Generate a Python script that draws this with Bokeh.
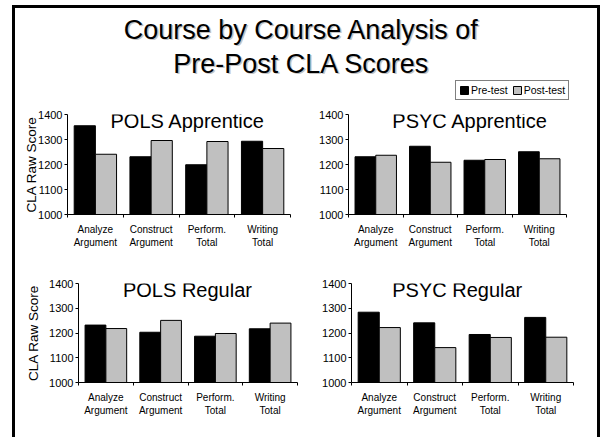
from bokeh.plotting import figure
from bokeh.models import (FactorRange, Range1d, LinearAxis, FixedTicker,
                          Label, Legend, LegendItem, ColumnDataSource)
from bokeh.transform import dodge
from bokeh.layouts import column, row
from bokeh.embed import file_html
from bokeh.resources import INLINE

FONT = "Liberation Sans"

# ---- data ----
categories = ["Analyze\nArgument", "Construct\nArgument", "Perform.\nTotal", "Writing\nTotal"]
series_names = ["Pre-test", "Post-test"]
y_ticks = [1000, 1100, 1200, 1300, 1400]
main_title = ["Course by Course Analysis of", "Pre-Post CLA Scores"]
y_label = "CLA Raw Score"

pols_app_title = "POLS Apprentice"
pols_app_pre = [1355, 1231, 1199, 1293]
pols_app_post = [1241, 1296, 1292, 1264]

psyc_app_title = "PSYC Apprentice"
psyc_app_pre = [1231, 1273, 1217, 1251]
psyc_app_post = [1237, 1209, 1220, 1223]

pols_reg_title = "POLS Regular"
pols_reg_pre = [1232, 1203, 1187, 1217]
pols_reg_post = [1218, 1251, 1198, 1240]

psyc_reg_title = "PSYC Regular"
psyc_reg_pre = [1284, 1241, 1194, 1263]
psyc_reg_post = [1222, 1141, 1182, 1183]

PRE_COLOR = "black"
POST_COLOR = "#C0C0C0"


def make_panel(title, pre, post, w, h, bl, br, bt, bb, ylabel, ylabel_standoff, title_x):
    src = ColumnDataSource(dict(cat=categories, pre=pre, post=post))
    p = figure(x_range=FactorRange(factors=categories, range_padding=0),
               y_range=Range1d(y_ticks[0], y_ticks[-1]),
               width=w, height=h, min_border_left=bl, min_border_right=br,
               min_border_top=bt, min_border_bottom=bb,
               x_axis_type=None, y_axis_type=None,
               output_backend="svg", toolbar_location=None)
    p.outline_line_color = None
    p.background_fill_color = "white"
    p.border_fill_color = "white"

    p.vbar(x=dodge("cat", -0.19, range=p.x_range), top="pre", bottom=y_ticks[0], width=0.38,
           source=src, fill_color=PRE_COLOR, line_color="black", line_width=1)
    p.vbar(x=dodge("cat", 0.19, range=p.x_range), top="post", bottom=y_ticks[0], width=0.38,
           source=src, fill_color=POST_COLOR, line_color="black", line_width=1)

    yax = LinearAxis(ticker=FixedTicker(ticks=y_ticks))
    if ylabel:
        yax.axis_label = ylabel
    yax.axis_label_text_font = FONT
    yax.axis_label_text_font_size = "13.5px"
    yax.axis_label_text_font_style = "normal"
    yax.axis_label_text_color = "black"
    yax.axis_label_standoff = ylabel_standoff
    yax.major_label_text_font = FONT
    yax.major_label_text_font_size = "11px"
    yax.major_label_text_color = "black"
    yax.major_label_standoff = 2
    yax.major_tick_in = 0
    yax.major_tick_out = 3
    yax.minor_tick_line_color = None
    yax.axis_line_color = "black"
    p.add_layout(yax, "left")

    # category labels at centres, small tick marks between categories
    n = len(categories)
    centres = [i + 0.5 for i in range(n)]
    bounds = [float(i) for i in range(n + 1)]
    xax = LinearAxis(ticker=FixedTicker(ticks=centres, minor_ticks=bounds))
    xax.major_label_overrides = {c: lab for c, lab in zip(centres, categories)}
    xax.major_tick_line_color = None
    xax.major_tick_in = 0
    xax.major_tick_out = 0
    xax.minor_tick_line_color = "black"
    xax.minor_tick_in = 0
    xax.minor_tick_out = 3
    xax.axis_line_color = "black"
    xax.major_label_text_font = FONT
    xax.major_label_text_font_size = "10px"
    xax.major_label_text_color = "black"
    xax.major_label_standoff = 6
    p.add_layout(xax, "below")

    frame_h = h - bt - bb
    span = y_ticks[-1] - y_ticks[0]
    p.add_layout(Label(x=title_x, y=y_ticks[-1] - 6 * span / frame_h, text=title,
                       text_align="center", text_baseline="alphabetic",
                       text_font=FONT, text_font_size="20px", text_color="black"))
    return p


W1, W2 = 301, 281
p1 = make_panel(pols_app_title, pols_app_pre, pols_app_post, W1, 162, 52, 26, 14, 48, y_label, -4, 2.157)
p2 = make_panel(psyc_app_title, psyc_app_pre, psyc_app_post, W2, 162, 26, 31, 14, 48, None, 0, 2.232)
p3 = make_panel(pols_reg_title, pols_reg_pre, pols_reg_post, W1, 175, 63, 19, 21, 55, y_label, 5, 1.99)
p4 = make_panel(psyc_reg_title, psyc_reg_pre, psyc_reg_post, W2, 175, 35, 24, 21, 55, None, 0, 1.905)

# ---- title strip with legend ----
TW, TH = W1 + W2, 92
pt = figure(width=TW, height=TH, x_range=Range1d(0, TW), y_range=Range1d(0, TH),
            min_border=0, x_axis_type=None, y_axis_type=None,
            output_backend="svg", toolbar_location=None)
pt.outline_line_color = None
for dx, dy, col in [(1.5, -1.5, "#C4C4C4"), (0, 0, "black")]:
    pt.add_layout(Label(x=286 + dx, y=71 + dy, text=main_title[0], text_align="center",
                        text_baseline="alphabetic", text_font=FONT, text_font_size="27px",
                        text_color=col))
    pt.add_layout(Label(x=286 + dx, y=37 + dy, text=main_title[1], text_align="center",
                        text_baseline="alphabetic", text_font=FONT, text_font_size="27px",
                        text_color=col))

# legend swatches (hidden renderers, only used for the legend glyphs)
r_pre = pt.vbar(x=[0], top=[0], width=0, fill_color=PRE_COLOR, line_color="black", visible=False)
r_post = pt.vbar(x=[0], top=[0], width=0, fill_color=POST_COLOR, line_color="black", visible=False)
legend = Legend(items=[LegendItem(label=series_names[0], renderers=[r_pre]),
                       LegendItem(label=series_names[1], renderers=[r_post])],
                orientation="horizontal", location=(440, 0))
legend.border_line_color = "black"
legend.border_line_width = 1
legend.background_fill_color = "white"
legend.background_fill_alpha = 1
legend.label_text_font = FONT
legend.label_text_font_size = "10.5px"
legend.label_text_color = "black"
legend.label_height = 10
legend.label_standoff = 2
legend.glyph_height = 10
legend.glyph_width = 10
legend.padding = 3
legend.spacing = 4
legend.margin = 0
pt.add_layout(legend, "center")

layout = column(pt, row(p1, p2, spacing=0), row(p3, p4, spacing=0), spacing=0,
                styles={"border-left": "3px solid black", "border-right": "3px solid black",
                        "border-top": "3px solid black", "margin-left": "12px",
                        "margin-top": "5px"})

open("out.html", "w").write(file_html(layout, INLINE))
